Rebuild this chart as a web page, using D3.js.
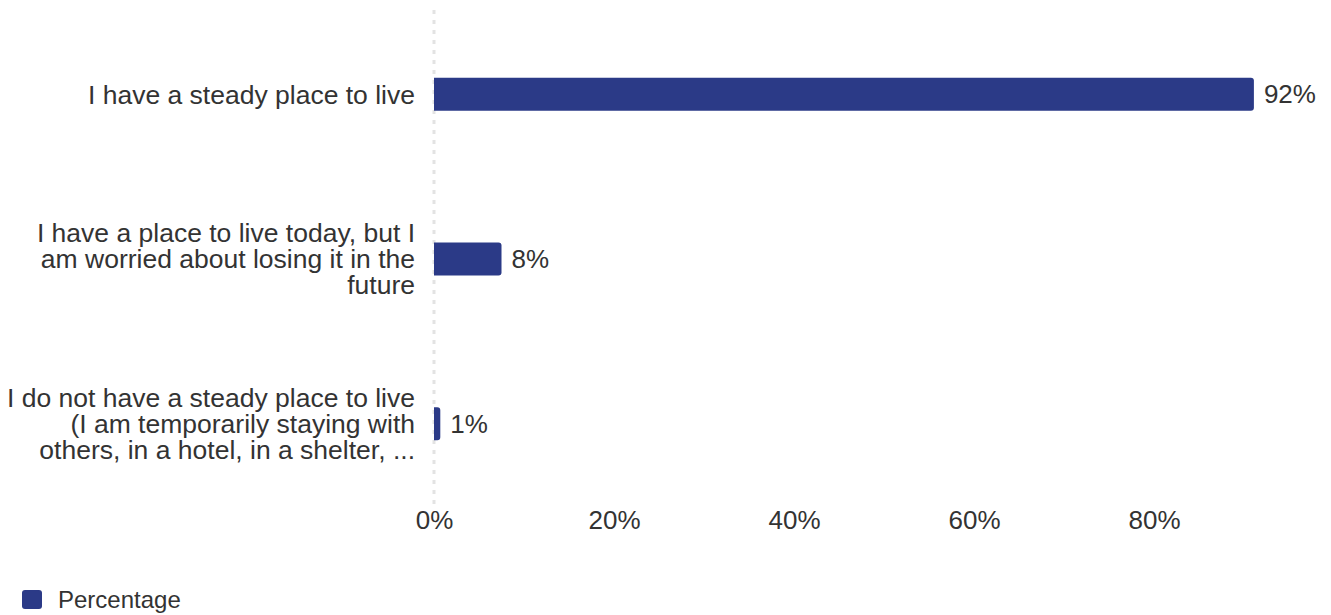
<!DOCTYPE html>
<html>
<head>
<meta charset="utf-8">
<script src="https://cdn.jsdelivr.net/npm/d3@7"></script>
<style>
  html, body { margin: 0; padding: 0; background: #fff; }
  svg { display: block; font-family: "Liberation Sans", Arial, Helvetica, sans-serif; }
</style>
</head>
<body>
<svg id="chart" width="1331" height="615"></svg>
<script>
// ---- data ----
const categories = [
  "I have a steady place to live",
  "I have a place to live today, but I\nam worried about losing it in the\nfuture",
  "I do not have a steady place to live\n(I am temporarily staying with\nothers, in a hotel, in a shelter, ..."
];
const values = [91.1, 7.5, 0.7];
const valueLabels = ["92%", "8%", "1%"];
const tickValues = [0, 20, 40, 60, 80];
const tickLabels = ["0%", "20%", "40%", "60%", "80%"];
const seriesName = "Percentage";

// ---- layout ----
const svg = d3.select("#chart");
const barColor = "#2b3a87";
const textColor = "#333333";
const x = d3.scaleLinear().domain([0, 100]).range([434, 1334]);
const y = d3.scaleBand().domain(categories).range([12, 506]).paddingInner(0.8).paddingOuter(0.4);

// zero line (dotted)
svg.append("line")
  .attr("x1", x(0)).attr("x2", x(0))
  .attr("y1", 10).attr("y2", 505)
  .attr("stroke", "#e3e3e3").attr("stroke-width", 3)
  .attr("stroke-dasharray", "4,6");

// bars with rounded right corners
function barPath(x0, x1, y0, h) {
  const w = x1 - x0;
  const r = Math.min(3, w / 2, h / 2);
  return `M${x0},${y0} H${x1 - r} A${r},${r} 0 0 1 ${x1},${y0 + r} V${y0 + h - r} A${r},${r} 0 0 1 ${x1 - r},${y0 + h} H${x0} Z`;
}
svg.append("g").selectAll("path")
  .data(categories)
  .join("path")
  .attr("d", (c, i) => barPath(x(0), x(values[i]), y(c), y.bandwidth()))
  .attr("fill", barColor);

// value labels
svg.append("g").selectAll("text")
  .data(categories)
  .join("text")
  .attr("x", (c, i) => x(values[i]) + 10)
  .attr("y", c => y(c) + y.bandwidth() / 2)
  .attr("dy", "0.35em")
  .attr("font-size", 26)
  .attr("fill", textColor)
  .text((c, i) => valueLabels[i]);

// category labels
const lineH = 26;
const catG = svg.append("g");
categories.forEach(c => {
  const lines = c.split("\n");
  const cy = y(c) + y.bandwidth() / 2;
  const t = catG.append("text")
    .attr("text-anchor", "end")
    .attr("font-size", 26.5)
    .attr("fill", textColor);
  lines.forEach((ln, j) => {
    t.append("tspan")
      .attr("x", 415)
      .attr("y", cy + (j - (lines.length - 1) / 2) * lineH)
      .attr("dy", "0.35em")
      .text(ln);
  });
});

// x axis
const xAxis = d3.axisBottom(x)
  .tickValues(tickValues)
  .tickFormat((d, i) => tickLabels[i])
  .tickSize(0)
  .tickPadding(0);
const ax = svg.append("g").attr("transform", "translate(0,511)").call(xAxis);
ax.select(".domain").remove();
ax.selectAll("text")
  .attr("font-size", 26)
  .attr("fill", textColor)
  .attr("font-family", "Liberation Sans, Arial, sans-serif")
  .attr("dy", "0.71em");

// legend
const lg = svg.append("g").attr("transform", "translate(22,590)");
lg.append("rect").attr("width", 20).attr("height", 19).attr("rx", 3).attr("fill", barColor);
lg.append("text").attr("x", 36).attr("y", 9.5).attr("dy", "0.35em")
  .attr("font-size", 24).attr("fill", textColor).text(seriesName);
</script>
</body>
</html>
